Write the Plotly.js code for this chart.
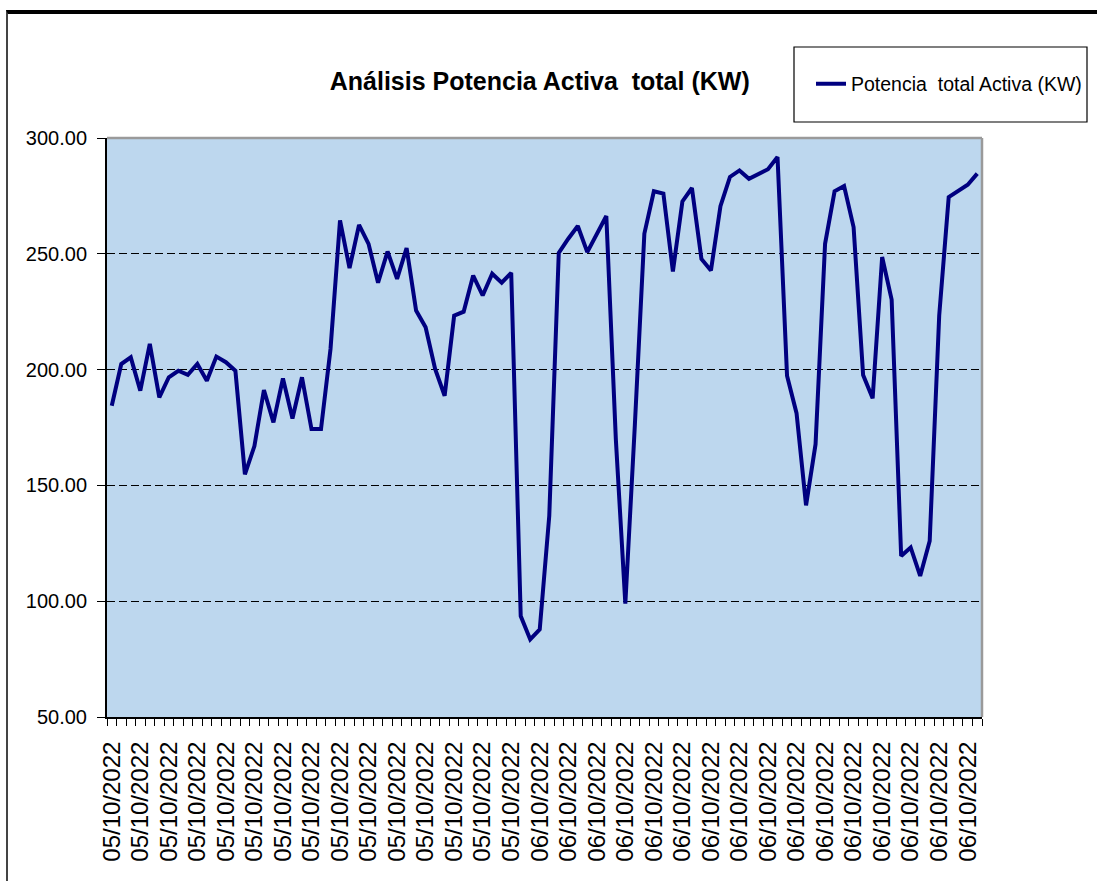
<!DOCTYPE html>
<html>
<head>
<meta charset="utf-8">
<script src="https://cdn.plot.ly/plotly-3.0.1.min.js"></script>
<style>
  html, body { margin: 0; padding: 0; background: #fff; overflow: hidden; }
  #chart { width: 1097px; height: 881px; }
  #frame { position: absolute; left: 6px; top: 10px; width: 1200px; height: 1000px;
           border-top: 4px solid #000; border-left: 2px solid #444; pointer-events: none; }
</style>
</head>
<body>
<div id="chart"></div>
<div id="frame"></div>
<script>
// ---- data ----
const chartTitle = "Análisis Potencia Activa  total (KW)";
const seriesName = "Potencia  total Activa (KW)";

const dates = [
  "05/10/2022","05/10/2022","05/10/2022","05/10/2022","05/10/2022","05/10/2022","05/10/2022","05/10/2022","05/10/2022","05/10/2022",
  "05/10/2022","05/10/2022","05/10/2022","05/10/2022","05/10/2022","05/10/2022","05/10/2022","05/10/2022","05/10/2022","05/10/2022",
  "05/10/2022","05/10/2022","05/10/2022","05/10/2022","05/10/2022","05/10/2022","05/10/2022","05/10/2022","05/10/2022","05/10/2022",
  "05/10/2022","05/10/2022","05/10/2022","05/10/2022","05/10/2022","05/10/2022","05/10/2022","05/10/2022","05/10/2022","05/10/2022",
  "05/10/2022","05/10/2022","05/10/2022","05/10/2022",
  "06/10/2022","06/10/2022","06/10/2022","06/10/2022","06/10/2022","06/10/2022","06/10/2022","06/10/2022","06/10/2022","06/10/2022",
  "06/10/2022","06/10/2022","06/10/2022","06/10/2022","06/10/2022","06/10/2022","06/10/2022","06/10/2022","06/10/2022","06/10/2022",
  "06/10/2022","06/10/2022","06/10/2022","06/10/2022","06/10/2022","06/10/2022","06/10/2022","06/10/2022","06/10/2022","06/10/2022",
  "06/10/2022","06/10/2022","06/10/2022","06/10/2022","06/10/2022","06/10/2022","06/10/2022","06/10/2022","06/10/2022","06/10/2022",
  "06/10/2022","06/10/2022","06/10/2022","06/10/2022","06/10/2022","06/10/2022","06/10/2022","06/10/2022"
];

const potencia = [
  184.4, 202.4, 205.3, 190.9, 211.1, 188.0, 196.7, 199.5, 197.7, 202.4,
  195.2, 205.6, 203.2, 199.5, 154.8, 167.0, 191.2, 177.2, 196.2, 178.9,
  196.7, 174.3, 174.3, 208.9, 264.4, 243.8, 262.5, 254.3, 237.5, 251.0,
  239.2, 252.5, 225.5, 218.3, 200.3, 188.7, 223.3, 225.0, 240.6, 232.0,
  241.4, 237.5, 241.8, 93.6, 83.5, 87.8, 136.8, 250.4, 256.5, 262.0,
  250.7, 258.2, 266.3, 170.0, 99.0, 176.0, 258.7, 277.0, 276.0, 242.4,
  272.6, 278.4, 247.8, 242.8, 270.6, 283.2, 286.0, 282.4, 284.6, 286.5,
  291.8, 197.4, 181.2, 141.4, 167.8, 254.3, 277.0, 279.3, 261.5, 197.7,
  187.6, 248.6, 230.2, 119.5, 123.2, 110.9, 126.0, 223.3, 274.5, 277.0,
  279.8, 284.6
];

const yTickValues = [50, 100, 150, 200, 250, 300];
const labelEvery = 3;

// ---- build ----
const xIdx = potencia.map((_, i) => i);
const tickvals = xIdx.filter(i => i % labelEvery === 0);
const ticktext = tickvals.map(i => dates[i]);

const FONT = '"Liberation Sans", Arial, sans-serif';

const trace = {
  x: xIdx,
  y: potencia,
  type: 'scatter',
  mode: 'lines',
  name: seriesName,
  line: { color: '#000080', width: 4 },
  hoverinfo: 'y'
};

const layout = {
  width: 1097,
  height: 881,
  margin: { l: 107, r: 115, t: 138, b: 164, pad: 0, autoexpand: false },
  paper_bgcolor: 'rgba(0,0,0,0)',
  plot_bgcolor: '#BDD7EE',
  showlegend: true,
  title: {
    text: '<b>' + chartTitle + '</b>',
    font: { family: FONT, size: 25, color: '#000' },
    xref: 'container', x: 0.492, xanchor: 'center',
    yref: 'container', y: 0.908, yanchor: 'middle'
  },
  legend: {
    x: (811 - 107) / 875, xanchor: 'left',
    y: (717 - 84) / 579, yanchor: 'middle',
    bgcolor: 'rgba(0,0,0,0)',
    borderwidth: 0,
    font: { family: FONT, size: 19.5, color: '#000' },
    itemwidth: 30
  },
  xaxis: {
    range: [-0.5, potencia.length - 0.5],
    tickmode: 'array',
    tickvals: tickvals,
    ticktext: ticktext,
    tickangle: -90,
    ticks: '',
    ticklabelstandoff: 13,
    tickfont: { family: FONT, size: 24, color: '#000' },
    showgrid: false,
    zeroline: false,
    showline: true,
    linecolor: '#000',
    linewidth: 2,
    minor: {
      tickmode: 'linear', tick0: -0.5, dtick: 1,
      ticks: 'outside', ticklen: 7, tickwidth: 1, tickcolor: '#000',
      showgrid: false
    },
    fixedrange: true
  },
  yaxis: {
    range: [50, 300],
    tickmode: 'array',
    tickvals: yTickValues,
    tickformat: '.2f',
    ticks: 'outside',
    ticklen: 8,
    tickwidth: 1,
    tickcolor: '#000',
    ticklabelstandoff: 6,
    tickfont: { family: FONT, size: 20, color: '#000' },
    showgrid: true,
    gridcolor: '#000',
    gridwidth: 1,
    griddash: '8px,4px',
    zeroline: false,
    showline: true,
    linecolor: '#000',
    linewidth: 2,
    fixedrange: true
  },
  shapes: [
    { type: 'line', xref: 'paper', yref: 'paper', x0: 0, x1: 1, y0: 1, y1: 1,
      line: { color: '#9a9a9a', width: 2.5 }, layer: 'above' },
    { type: 'line', xref: 'paper', yref: 'paper', x0: 1, x1: 1, y0: 0, y1: 1,
      line: { color: '#9a9a9a', width: 2.5 }, layer: 'above' },
    // legend box
    { type: 'rect', xref: 'paper', yref: 'paper',
      x0: (794 - 107) / 875, x1: (1087 - 107) / 875,
      y0: (717 - 122) / 579, y1: (717 - 47) / 579,
      line: { color: '#000', width: 1.2 }, fillcolor: '#fff', layer: 'below' }
  ]
};

Plotly.newPlot('chart', [trace], layout, { displayModeBar: false, staticPlot: true });
</script>
</body>
</html>
